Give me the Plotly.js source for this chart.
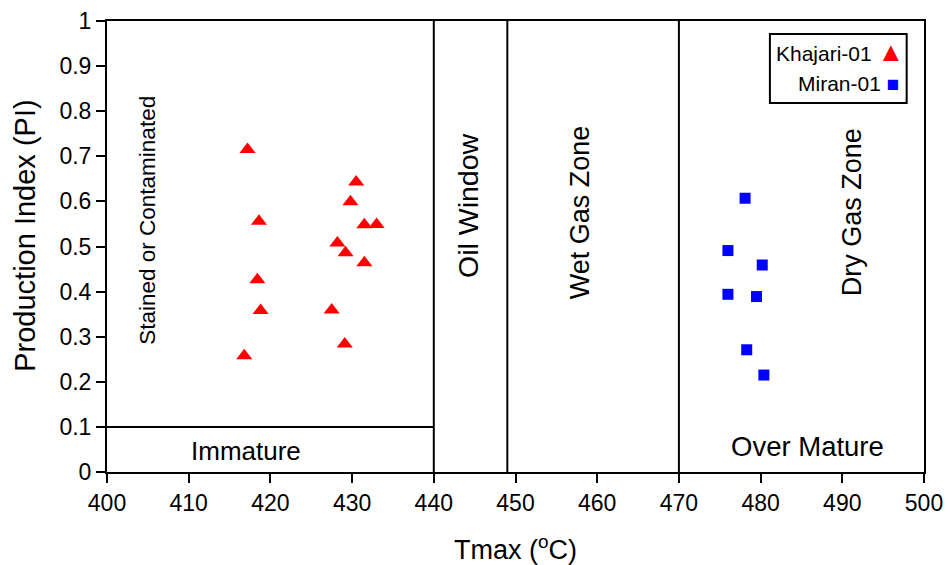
<!DOCTYPE html>
<html>
<head>
<meta charset="utf-8">
<script src="https://cdn.plot.ly/plotly-3.0.1.min.js"></script>
<style>html,body{margin:0;padding:0;background:#fff;}#chart{width:950px;height:565px;}</style>
</head>
<body>
<div id="chart"></div>
<script>
// Khajari-01 (triangles)
const khajariTmax = [417.2, 430.5, 429.8, 418.6, 431.5, 433.0, 428.2, 429.2, 431.5, 418.4, 418.8, 427.5, 429.1, 416.8];
const khajariPI   = [0.715, 0.643, 0.599, 0.556, 0.548, 0.549, 0.508, 0.486, 0.464, 0.426, 0.358, 0.359, 0.284, 0.258];
// Miran-01 (squares)
const miranTmax = [478.1, 476.0, 480.2, 476.0, 479.5, 478.3, 480.4];
const miranPI   = [0.607, 0.491, 0.459, 0.394, 0.389, 0.271, 0.215];

// zone boundaries
const immatureTmax = 440;
const wetGasTmax = 449;
const dryGasTmax = 470;
const immaturePI = 0.1;

const xTicks = [400, 410, 420, 430, 440, 450, 460, 470, 480, 490, 500];
const yTicks = [0, 0.1, 0.2, 0.3, 0.4, 0.5, 0.6, 0.7, 0.8, 0.9, 1];
const yTickText = ['0', '0.1', '0.2', '0.3', '0.4', '0.5', '0.6', '0.7', '0.8', '0.9', '1'];

const FONT = 'Liberation Sans, Arial, sans-serif';

const traces = [
  {x: khajariTmax, y: khajariPI, type: 'scatter', mode: 'markers', name: 'Khajari-01',
   marker: {symbol: 'triangle-up', size: 14, color: '#ff0000'}, showlegend: false, cliponaxis: false},
  {x: miranTmax, y: miranPI, type: 'scatter', mode: 'markers', name: 'Miran-01',
   marker: {symbol: 'square', size: 11, color: '#0000ff'}, showlegend: false, cliponaxis: false}
];

const lineStyle = {color: '#000', width: 2};
const shapes = [
  {type: 'line', xref: 'x', yref: 'paper', x0: immatureTmax, x1: immatureTmax, y0: 0, y1: 1, line: lineStyle},
  {type: 'line', xref: 'x', yref: 'paper', x0: wetGasTmax, x1: wetGasTmax, y0: 0, y1: 1, line: lineStyle},
  {type: 'line', xref: 'x', yref: 'paper', x0: dryGasTmax, x1: dryGasTmax, y0: 0, y1: 1, line: lineStyle},
  {type: 'line', xref: 'x', yref: 'y', x0: 400, x1: immatureTmax, y0: immaturePI, y1: immaturePI, line: lineStyle},
  // legend box
  {type: 'rect', xref: 'paper', yref: 'paper', x0: 0.8114, x1: 0.9788, y0: 0.818, y1: 0.971,
   line: {color: '#000', width: 2}, fillcolor: '#fff', layer: 'above'}
];

const ann = (text, x, y, size, angle, extra) => Object.assign({
  text: text, x: x, y: y, xref: 'x', yref: 'y', showarrow: false,
  textangle: angle || 0, font: {family: FONT, size: size, color: '#000'}
}, extra || {});

const annotations = [
  ann('Stained or Contaminated', 405.0, 0.559, 22.5, -90),
  ann('Oil Window', 444.2, 0.59, 28.5, -90),
  ann('Wet Gas Zone', 457.9, 0.576, 27, -90),
  ann('Dry Gas Zone', 491.2, 0.576, 27, -90),
  ann('Immature', 417.0, 0.047, 26, 0),
  ann('Over Mature', 485.8, 0.056, 27.5, 0),
  // axis titles
  {text: 'Production Index (PI)', xref: 'paper', yref: 'paper', x: -0.1008, y: 0.523,
   xanchor: 'center', yanchor: 'middle', textangle: -90, showarrow: false,
   font: {family: FONT, size: 29, color: '#000'}},
  {text: 'Tmax (<sup>o</sup>C)', xref: 'paper', yref: 'paper', x: 0.5004, y: -0.1676,
   xanchor: 'center', yanchor: 'middle', showarrow: false,
   font: {family: FONT, size: 27, color: '#000'}},
  // legend entries
  {text: 'Khajari-01 <span style="color:#ff0000;font-size:27px">▲</span>', xref: 'paper', yref: 'paper',
   x: 0.978, y: 0.932, xanchor: 'right', yanchor: 'middle', showarrow: false,
   font: {family: FONT, size: 21, color: '#000'}},
  {text: 'Miran-01 <span style="color:#0000ff;font-size:21px">■</span>', xref: 'paper', yref: 'paper',
   x: 0.972, y: 0.862, xanchor: 'right', yanchor: 'middle', showarrow: false,
   font: {family: FONT, size: 21, color: '#000'}}
];

const layout = {
  width: 950, height: 565,
  margin: {l: 107, r: 26, t: 21, b: 93},
  paper_bgcolor: '#fff', plot_bgcolor: '#fff',
  font: {family: FONT, color: '#000'},
  showlegend: false,
  xaxis: {
    range: [400, 500], tickvals: xTicks, ticktext: xTicks.map(String),
    showgrid: false, zeroline: false, showline: true, linecolor: '#000', linewidth: 2, mirror: true,
    ticks: 'outside', ticklen: 9, tickwidth: 2, tickcolor: '#000',
    tickfont: {family: FONT, size: 23, color: '#000'}
  },
  yaxis: {
    range: [0, 1], tickvals: yTicks, ticktext: yTickText,
    showgrid: false, zeroline: false, showline: true, linecolor: '#000', linewidth: 2, mirror: true,
    ticks: 'outside', ticklen: 9, tickwidth: 2, tickcolor: '#000',
    tickfont: {family: FONT, size: 23, color: '#000'}
  },
  shapes: shapes,
  annotations: annotations
};

Plotly.newPlot('chart', traces, layout, {staticPlot: true, displayModeBar: false});
</script>
</body>
</html>
